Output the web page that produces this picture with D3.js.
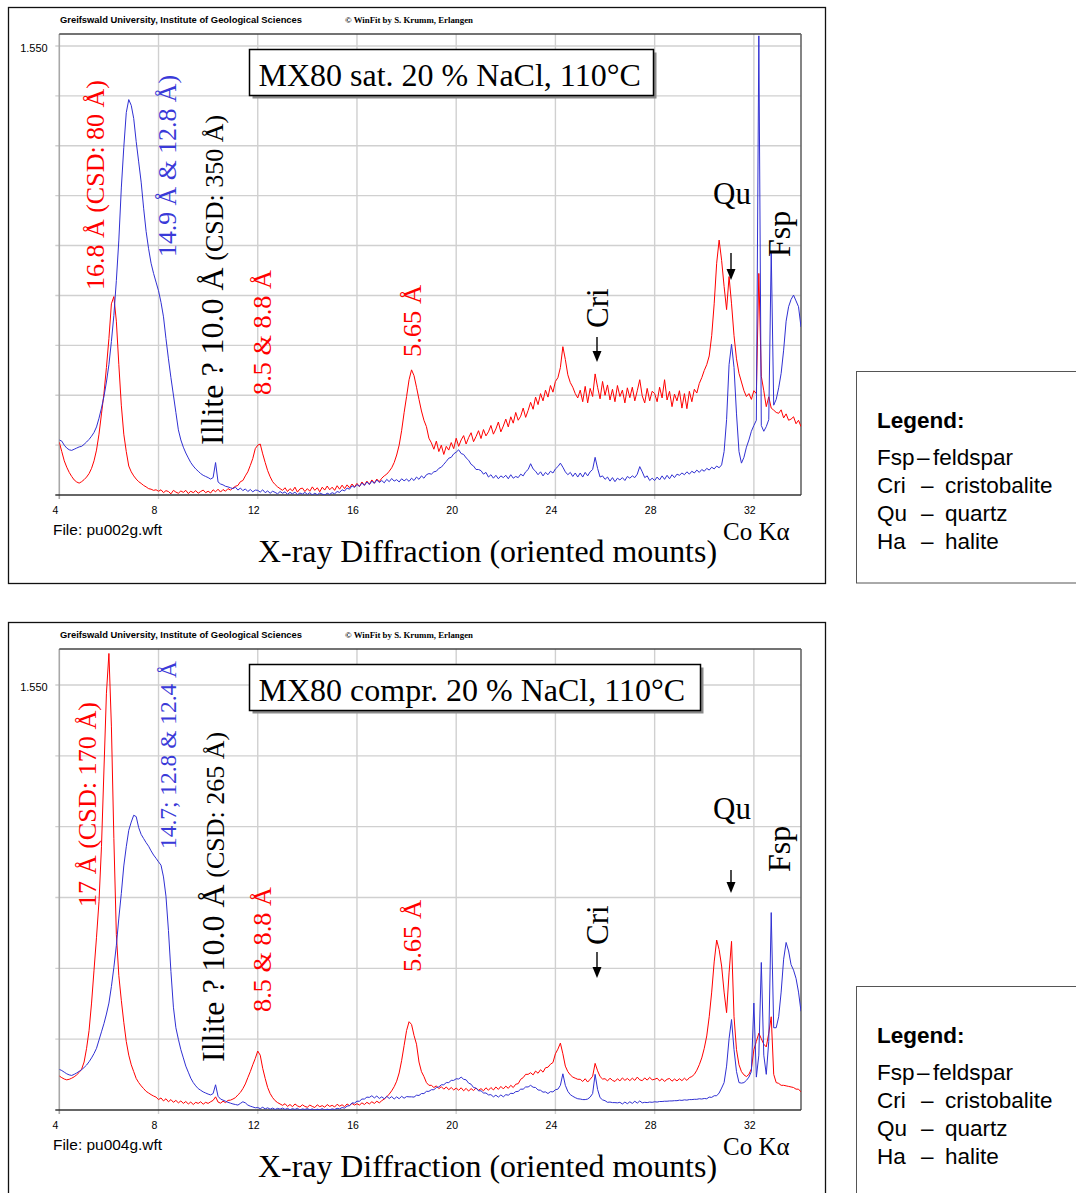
<!DOCTYPE html>
<html>
<head>
<meta charset="utf-8">
<script src="https://cdn.jsdelivr.net/npm/d3@7"></script>
<style>
  html, body { margin: 0; padding: 0; background: #fff; }
  svg { display: block; }
  text { white-space: pre; }
</style>
</head>
<body>
<svg id="chart" width="1076" height="1193"></svg>
<script>
// XRD scans of MX80 bentonite, oriented mounts, Co K-alpha.
// Intensities in thousands of counts, sampled every 0.1 degree 2-theta from 4.0 to 33.9.
const ANGLE_START = 4;
const ANGLE_STEP = 0.1;
const xTicks = [4, 8, 12, 16, 20, 24, 28, 32];
const yTopValue = 1.55;
const yTopLabel = "1.550";

// MX80 saturated with 20 % NaCl at 110 °C
const satRed = [
  .182,.150,.118,.096,.078,.064,.052,.045,.041,.046,
  .053,.062,.074,.092,.118,.155,.210,.280,.350,.440,
  .540,.660,.685,.600,.450,.310,.210,.150,.100,.080,
  .066,.055,.046,.040,.033,.028,.022,.020,.016,.018,
  .013,.018,.008,.015,.012,.004,.016,.010,.006,.014,
  .009,.016,.005,.013,.008,.015,.006,.012,.017,.008,
  .013,.007,.018,.011,.020,.010,.019,.013,.022,.017,
  .024,.030,.033,.046,.050,.066,.080,.102,.126,.160,
  .172,.176,.142,.112,.084,.063,.046,.036,.028,.022,
  .016,.025,.012,.022,.014,.027,.010,.021,.024,.012,
  .022,.013,.028,.016,.025,.011,.027,.017,.031,.018,
  .027,.016,.032,.020,.034,.022,.035,.025,.038,.028,
  .040,.029,.045,.034,.048,.037,.052,.041,.055,.046,
  .058,.066,.072,.082,.094,.112,.138,.172,.222,.284,
  .340,.398,.432,.412,.372,.330,.290,.258,.236,.196,
  .180,.158,.186,.150,.172,.140,.168,.155,.181,.160,
  .196,.168,.190,.205,.176,.198,.215,.184,.202,.222,
  .195,.226,.204,.218,.240,.210,.228,.252,.218,.238,
  .262,.235,.270,.248,.285,.258,.272,.300,.268,.292,
  .320,.296,.338,.312,.350,.325,.362,.338,.378,.355,
  .392,.405,.440,.512,.468,.415,.388,.372,.350,.335,
  .362,.322,.375,.318,.368,.340,.418,.372,.332,.392,
  .344,.380,.328,.365,.322,.378,.340,.362,.318,.370,
  .336,.372,.325,.360,.398,.342,.318,.368,.325,.358,
  .350,.322,.372,.335,.398,.328,.358,.305,.348,.325,
  .360,.300,.350,.298,.358,.322,.365,.352,.385,.405,
  .430,.450,.480,.550,.660,.800,.880,.810,.720,.640,
  .754,.660,.550,.470,.420,.390,.360,.340,.350,.330,
  .360,.350,.765,.410,.360,.305,.339,.300,.293,.285,
  .282,.294,.266,.280,.258,.262,.270,.246,.258,.236
];
const satBlue = [
  .190,.186,.172,.162,.156,.154,.158,.162,.166,.168,
  .175,.183,.192,.203,.216,.235,.265,.300,.340,.390,
  .450,.530,.620,.740,.880,1.060,1.200,1.320,1.365,1.345,
  1.300,1.220,1.150,1.080,.990,.910,.850,.800,.765,.735,
  .705,.665,.615,.540,.470,.405,.345,.285,.225,.190,
  .165,.145,.128,.112,.100,.090,.082,.074,.068,.064,
  .060,.055,.060,.112,.045,.038,.035,.030,.028,.025,
  .022,.027,.017,.024,.015,.021,.012,.019,.011,.017,
  .016,.010,.018,.008,.014,.006,.013,.009,.004,.012,
  .006,.011,.002,.009,.004,.010,.001,.007,.003,.009,
  .002,.008,.000,.006,.001,.007,.003,.000,.006,.002,
  .008,.004,.012,.009,.018,.014,.024,.020,.032,.026,
  .036,.030,.041,.033,.045,.036,.048,.040,.052,.043,
  .050,.042,.054,.046,.057,.048,.053,.045,.056,.049,
  .055,.047,.058,.050,.062,.054,.066,.058,.070,.074,
  .072,.080,.082,.092,.096,.106,.116,.127,.130,.142,
  .148,.156,.143,.140,.128,.120,.106,.100,.088,.088,
  .084,.072,.078,.062,.070,.058,.068,.056,.066,.060,
  .068,.056,.070,.058,.064,.060,.072,.066,.080,.088,
  .108,.090,.082,.070,.080,.066,.078,.070,.082,.076,
  .090,.098,.110,.096,.080,.070,.078,.064,.076,.062,
  .076,.062,.078,.066,.080,.088,.130,.092,.062,.066,
  .054,.062,.048,.060,.046,.058,.052,.060,.050,.064,
  .058,.066,.060,.072,.098,.080,.060,.066,.050,.058,
  .050,.062,.052,.066,.054,.068,.056,.070,.060,.072,
  .068,.076,.070,.080,.072,.082,.076,.086,.078,.088,
  .082,.092,.086,.096,.090,.100,.094,.104,.150,.260,
  .450,.520,.440,.280,.150,.110,.130,.165,.190,.220,
  .240,.258,1.585,.240,.220,.236,.260,.840,.310,.330,
  .370,.420,.500,.600,.650,.675,.690,.670,.650,.580
];

// MX80 compacted with 20 % NaCl at 110 °C
const comprRed = [
  .124,.118,.113,.110,.112,.116,.121,.128,.137,.149,
  .175,.225,.290,.390,.510,.630,.760,.960,1.240,1.520,
  1.665,1.400,.990,.640,.490,.400,.320,.250,.200,.165,
  .140,.115,.100,.088,.078,.068,.062,.056,.051,.047,
  .038,.044,.033,.041,.030,.038,.028,.035,.026,.033,
  .024,.031,.022,.029,.020,.028,.024,.030,.021,.028,
  .024,.030,.035,.048,.029,.025,.032,.027,.035,.036,
  .040,.045,.055,.064,.078,.095,.118,.140,.165,.188,
  .215,.200,.152,.115,.082,.060,.045,.034,.027,.022,
  .017,.023,.013,.020,.012,.022,.015,.011,.019,.013,
  .010,.018,.013,.009,.019,.012,.016,.010,.020,.013,
  .017,.011,.021,.014,.019,.012,.022,.016,.024,.018,
  .023,.018,.026,.020,.028,.022,.030,.024,.032,.026,
  .034,.040,.048,.058,.070,.085,.105,.135,.180,.235,
  .290,.322,.312,.272,.240,.175,.140,.122,.100,.090,
  .090,.082,.088,.078,.085,.076,.084,.074,.082,.073,
  .080,.072,.081,.070,.079,.069,.078,.071,.080,.072,
  .078,.070,.081,.072,.082,.073,.084,.075,.086,.077,
  .087,.079,.090,.082,.094,.096,.112,.118,.130,.130,
  .136,.128,.142,.134,.147,.138,.154,.156,.167,.173,
  .205,.222,.244,.205,.160,.140,.128,.120,.116,.112,
  .112,.104,.114,.102,.112,.123,.170,.143,.122,.113,
  .114,.106,.116,.108,.104,.114,.106,.117,.108,.115,
  .107,.116,.108,.120,.110,.107,.117,.109,.119,.110,
  .112,.116,.106,.114,.104,.112,.115,.105,.113,.106,
  .114,.107,.116,.108,.118,.122,.130,.145,.165,.190,
  .225,.270,.340,.430,.540,.620,.585,.525,.430,.355,
  .500,.615,.340,.220,.165,.140,.128,.122,.130,.150,
  .220,.250,.280,.260,.240,.230,.280,.340,.130,.100,
  .097,.090,.090,.088,.086,.084,.082,.076,.076,.066
];
const comprBlue = [
  .148,.144,.138,.132,.128,.126,.130,.135,.141,.147,
  .155,.164,.176,.190,.206,.225,.255,.285,.315,.350,
  .390,.450,.520,.600,.700,.790,.890,.960,1.020,1.050,
  1.075,1.070,1.030,1.005,.990,.975,.962,.945,.930,.918,
  .905,.893,.850,.780,.655,.505,.375,.300,.258,.220,
  .190,.160,.138,.116,.100,.088,.078,.072,.066,.062,
  .058,.055,.060,.092,.050,.040,.036,.032,.028,.025,
  .022,.020,.018,.024,.030,.026,.018,.014,.011,.008,
  .009,.005,.010,.004,.008,.003,.007,.002,.006,.003,
  .007,.002,.006,.001,.005,.002,.006,.000,.004,.002,
  .005,.001,.004,.000,.003,.001,.005,.000,.003,.001,
  .004,.002,.006,.004,.009,.007,.014,.016,.026,.025,
  .032,.032,.040,.040,.047,.046,.052,.044,.051,.042,
  .048,.041,.050,.042,.049,.040,.048,.041,.050,.043,
  .049,.048,.048,.047,.054,.053,.060,.060,.068,.068,
  .074,.074,.082,.084,.092,.092,.100,.100,.108,.108,
  .114,.113,.120,.112,.110,.098,.094,.082,.080,.070,
  .070,.062,.062,.055,.056,.048,.054,.047,.055,.048,
  .056,.054,.061,.060,.067,.068,.076,.076,.084,.084,
  .090,.083,.082,.073,.072,.065,.066,.060,.067,.066,
  .074,.076,.090,.132,.090,.068,.056,.050,.045,.041,
  .040,.038,.038,.040,.047,.060,.130,.075,.045,.037,
  .034,.028,.029,.027,.027,.026,.028,.022,.029,.023,
  .030,.024,.032,.025,.033,.026,.028,.027,.029,.028,
  .030,.029,.031,.031,.032,.032,.033,.033,.034,.034,
  .036,.035,.037,.036,.038,.038,.039,.039,.041,.040,
  .042,.041,.047,.046,.052,.052,.062,.080,.100,.160,
  .260,.330,.220,.140,.100,.098,.100,.108,.120,.140,
  .390,.120,.200,.538,.200,.130,.250,.720,.300,.300,
  .340,.430,.550,.611,.580,.530,.510,.480,.430,.360
];

const legendItems = [
  ["Fsp", "feldspar"],
  ["Cri", "cristobalite"],
  ["Qu", "quartz"],
  ["Ha", "halite"]
];

const SERIF = "'Liberation Serif', 'Times New Roman', Times, serif";
const SANS = "'Liberation Sans', Arial, Helvetica, sans-serif";
const RED = "#ff0000";
const BLUE = "#3030d2";
const BLUE_TEXT = "#3a3ad8";

const panels = [
  {
    dy: 0,
    title: "MX80 sat. 20 % NaCl, 110°C",
    titleBoxW: 404,
    file: "File: pu002g.wft",
    red: satRed,
    blue: satBlue,
    divisions: 9,
    labelTop: 46,
    rotated: [
      { parts: [["16.8 Å (CSD: 80 Å)", 26]], color: RED, bx: 104, by: 290, len: 210 },
      { parts: [["14.9 Å & 12.8 Å)", 26]], color: BLUE_TEXT, bx: 176, by: 257, len: 182 },
      { parts: [["Illite ? 10.0 Å", 32], [" (CSD: 350 Å)", 26]], color: "#000", bx: 223, by: 445 },
      { parts: [["8.5 & 8.8 Å", 26]], color: RED, bx: 271, by: 395, len: 125 },
      { parts: [["5.65 Å", 26]], color: RED, bx: 421, by: 357, len: 72 },
      { parts: [["Cri", 31]], color: "#000", bx: 608, by: 328 },
      { parts: [["Fsp", 32]], color: "#000", bx: 790, by: 257 }
    ],
    arrows: [[597, 337, 362], [731, 253, 280]]
  },
  {
    dy: 615,
    title: "MX80 compr. 20 % NaCl, 110°C",
    titleBoxW: 451,
    file: "File: pu004g.wft",
    red: comprRed,
    blue: comprBlue,
    divisions: 6,
    labelTop: 70,
    rotated: [
      { parts: [["17 Å (CSD: 170 Å)", 26]], color: RED, bx: 96, by: 292, len: 205 },
      { parts: [["14.7; 12.8 & 12.4 Å", 23]], color: BLUE_TEXT, bx: 176, by: 234, len: 188 },
      { parts: [["Illite ? 10.0 Å", 32], [" (CSD: 265 Å)", 26]], color: "#000", bx: 224, by: 447 },
      { parts: [["8.5 & 8.8 Å", 26]], color: RED, bx: 271, by: 397, len: 125 },
      { parts: [["5.65 Å", 26]], color: RED, bx: 421, by: 357, len: 72 },
      { parts: [["Cri", 31]], color: "#000", bx: 608, by: 330 },
      { parts: [["Fsp", 32]], color: "#000", bx: 790, by: 257 }
    ],
    arrows: [[597, 337, 363], [731, 255, 278]]
  }
];

const svg = d3.select("#chart");
svg.append("rect").attr("width", 1076).attr("height", 1193).attr("fill", "#fff");

const plot = { left: 59.3, right: 801, top: 34, bottom: 495 };
const x = d3.scaleLinear().domain([4, 33.9]).range([plot.left, plot.right]);

panels.forEach((p, pi) => {
  const g = svg.append("g").attr("transform", `translate(0,${p.dy})`);
  const y = d3.scaleLinear().domain([0, yTopValue]).range([plot.bottom, p.labelTop]);
  const yTicks = d3.range(p.divisions + 1).map(i => yTopValue * i / p.divisions);

  // outer frame
  g.append("rect")
    .attr("x", 8.5).attr("y", 7.5).attr("width", 817).attr("height", pi === 0 ? 576 : 600)
    .attr("fill", "none").attr("stroke", "#111").attr("stroke-width", 1.3);

  // header line
  g.append("text").attr("x", 60).attr("y", 23)
    .attr("font-family", SANS).attr("font-weight", "bold").attr("font-size", 8.5)
    .attr("textLength", 242).attr("lengthAdjust", "spacingAndGlyphs")
    .text("Greifswald University, Institute of Geological Sciences");
  g.append("text").attr("x", 345).attr("y", 23)
    .attr("font-family", SERIF).attr("font-weight", "bold").attr("font-size", 9)
    .attr("textLength", 128).attr("lengthAdjust", "spacingAndGlyphs")
    .text("© WinFit by S. Krumm, Erlangen");

  // grid
  const grid = g.append("g").attr("stroke", "#d0d0d0").attr("stroke-width", 1.4);
  grid.selectAll("line.v").data(xTicks.slice(1)).join("line")
    .attr("x1", d => x(d)).attr("x2", d => x(d))
    .attr("y1", plot.top).attr("y2", plot.bottom + 4);
  grid.selectAll("line.h").data(yTicks.slice(1)).join("line")
    .attr("x1", plot.left - 4).attr("x2", plot.right)
    .attr("y1", d => y(d)).attr("y2", d => y(d));

  // plot border
  g.append("line").attr("x1", plot.left).attr("x2", plot.left)
    .attr("y1", plot.top).attr("y2", plot.bottom + 4)
    .attr("stroke", "#a8a8a8").attr("stroke-width", 1.6);
  g.append("line").attr("x1", plot.left).attr("x2", plot.right)
    .attr("y1", plot.top).attr("y2", plot.top)
    .attr("stroke", "#444").attr("stroke-width", 1.5);
  g.append("line").attr("x1", plot.right).attr("x2", plot.right)
    .attr("y1", plot.top).attr("y2", plot.bottom)
    .attr("stroke", "#666").attr("stroke-width", 1.6);
  g.append("line").attr("x1", plot.left - 4).attr("x2", plot.right)
    .attr("y1", plot.bottom).attr("y2", plot.bottom)
    .attr("stroke", "#333").attr("stroke-width", 1.5);

  // x tick labels
  const ax = g.append("g").attr("transform", `translate(0,${plot.bottom})`)
    .call(d3.axisBottom(x).tickValues(xTicks).tickSize(0).tickPadding(11.5).tickFormat(d3.format("d")));
  ax.select(".domain").remove();
  ax.selectAll("text").attr("font-family", SANS).attr("font-size", 10.5)
    .attr("fill", "#000").attr("dx", -4.5);

  // y label
  g.append("text").attr("x", 47.7).attr("y", y(yTopValue) + 6)
    .attr("text-anchor", "end").attr("font-family", SANS).attr("font-size", 11)
    .text(yTopLabel);

  // curves
  const clipId = `clip${pi}`;
  g.append("clipPath").attr("id", clipId).append("rect")
    .attr("x", plot.left).attr("y", plot.top)
    .attr("width", plot.right - plot.left).attr("height", plot.bottom - plot.top);
  const line = d3.line()
    .x((d, i) => x(ANGLE_START + i * ANGLE_STEP))
    .y(d => y(d));
  const curves = g.append("g").attr("clip-path", `url(#${clipId})`);
  curves.append("path").attr("d", line(p.red))
    .attr("fill", "none").attr("stroke", RED).attr("stroke-width", 1).attr("stroke-linejoin", "round");
  curves.append("path").attr("d", line(p.blue))
    .attr("fill", "none").attr("stroke", BLUE).attr("stroke-width", 1).attr("stroke-linejoin", "round");

  // rotated peak labels
  p.rotated.forEach(lbl => {
    const t = g.append("text")
      .attr("transform", `translate(${lbl.bx},${lbl.by}) rotate(-90)`)
      .attr("font-family", SERIF).attr("fill", lbl.color);
    if (lbl.len) t.attr("textLength", lbl.len).attr("lengthAdjust", "spacingAndGlyphs");
    lbl.parts.forEach(([s, fs]) => t.append("tspan").attr("font-size", fs).text(s));
  });

  // Qu label
  g.append("text").attr("x", 713).attr("y", 204)
    .attr("font-family", SERIF).attr("font-size", 31).text("Qu");

  // arrows
  p.arrows.forEach(([ax0, y1, y2]) => {
    g.append("line").attr("x1", ax0).attr("x2", ax0).attr("y1", y1).attr("y2", y2 - 6)
      .attr("stroke", "#000").attr("stroke-width", 1.4);
    g.append("path")
      .attr("d", `M${ax0},${y2} L${ax0 - 4.5},${y2 - 11} L${ax0 + 4.5},${y2 - 11} Z`)
      .attr("fill", "#000");
  });

  // title box with drop shadow
  g.append("rect").attr("x", 252.5).attr("y", 52.5)
    .attr("width", p.titleBoxW).attr("height", 46).attr("fill", "#8a8a8a");
  g.append("rect").attr("x", 249.5).attr("y", 49.5)
    .attr("width", p.titleBoxW).attr("height", 46)
    .attr("fill", "#fff").attr("stroke", "#000").attr("stroke-width", 1.5);
  g.append("text").attr("x", 258.5).attr("y", 86)
    .attr("font-family", SERIF).attr("font-size", 32).text(p.title);

  // file name and axis caption
  g.append("text").attr("x", 53).attr("y", 535)
    .attr("font-family", SANS).attr("font-size", 15)
    .attr("textLength", 109).attr("lengthAdjust", "spacingAndGlyphs")
    .text(p.file);
  g.append("text").attr("x", 723).attr("y", 540)
    .attr("font-family", SERIF).attr("font-size", 25).text("Co Kα");
  g.append("text").attr("x", 258).attr("y", 562)
    .attr("font-family", SERIF).attr("font-size", 32)
    .attr("textLength", 459).attr("lengthAdjust", "spacingAndGlyphs")
    .text("X-ray Diffraction (oriented mounts)");

  // legend box
  const lg = g.append("g");
  lg.append("rect").attr("x", 856.5).attr("y", 371.5)
    .attr("width", 240).attr("height", pi === 0 ? 211.5 : 300)
    .attr("fill", "#fff").attr("stroke", "#555").attr("stroke-width", 1);
  lg.append("text").attr("x", 877).attr("y", 428)
    .attr("font-family", SANS).attr("font-weight", "bold").attr("font-size", 22.5)
    .text("Legend:");
  legendItems.forEach(([abbr, name], i) => {
    const yy = 465 + i * 28;
    const first = i === 0;
    lg.append("text").attr("x", 877).attr("y", yy)
      .attr("font-family", SANS).attr("font-size", 22.5).text(abbr);
    lg.append("text").attr("x", first ? 917 : 921).attr("y", yy)
      .attr("font-family", SANS).attr("font-size", 22.5).text("–");
    lg.append("text").attr("x", first ? 933 : 945).attr("y", yy)
      .attr("font-family", SANS).attr("font-size", 22.5).text(name);
  });
});
</script>
</body>
</html>
